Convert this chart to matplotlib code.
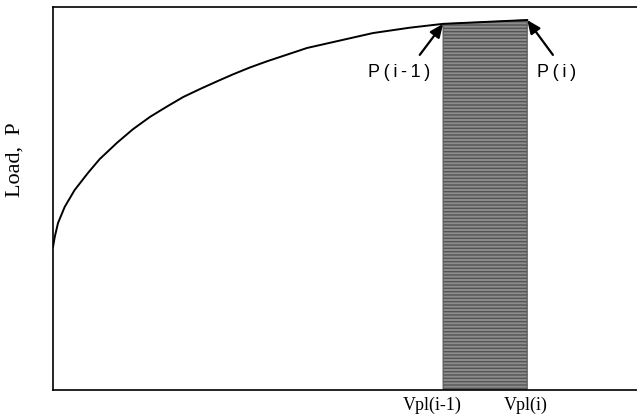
import matplotlib
matplotlib.use("Agg")
import matplotlib.pyplot as plt

# Load-displacement curve (x = plastic displacement, y = load)
disp = [0, 0.29, 0.86, 2.0, 3.7, 6.0, 8.0, 11.0, 13.7, 16.6, 19.5, 22.3, 25.2,
        28.1, 30.8, 33.7, 36.6, 43.5, 54.8, 61.1, 66.8, 74.0, 81.2]
load = [37.3, 39.9, 43.6, 47.8, 52.2, 56.7, 60.3, 64.6, 68.1, 71.3, 74.0, 76.5,
        78.6, 80.6, 82.4, 84.2, 85.8, 89.3, 93.2, 94.6, 95.6, 96.1, 96.6]

# increment between the two load steps
v_prev = 66.8
v_curr = 81.2
p_prev = 95.6
p_curr = 96.6

fig = plt.figure(figsize=(6.37, 4.2), dpi=100)
ax = fig.add_axes([53 / 637, 30 / 420, 584 / 637, 383 / 420])

# shaded strip under the curve
ax.fill([v_prev, v_prev, 74.0, v_curr, v_curr], [0, p_prev, 96.1, p_curr, 0],
        facecolor="#8c8c8c", edgecolor="#555555", hatch="-----", linewidth=0.8)

ax.plot(disp, load, color="black", linewidth=1.4, solid_joinstyle="round")

ax.set_xlim(0, 100)
ax.set_ylim(0, 100)
ax.set_xticks([])
ax.set_yticks([])
ax.spines["right"].set_visible(False)
for s in ["left", "bottom", "top"]:
    ax.spines[s].set_linewidth(1.2)

fig.text(15 / 637, 1 - 160 / 420, "Load,  P", family="Liberation Serif",
         fontsize=16, rotation=90, ha="center", va="center")

# labels under the strip
ax.text(64.9, -3.9, "Vpl(i-1)", family="Liberation Serif", fontsize=13,
        ha="center", va="center", clip_on=False)
ax.text(81.0, -3.9, "Vpl(i)", family="Liberation Serif", fontsize=13,
        ha="center", va="center", clip_on=False)

# point labels with arrows
sp = "\u2009"
ax.text(59.2, 83.0, sp.join("P(i-1)"), family="Liberation Sans", fontsize=13,
        ha="center", va="center")
ax.text(86.3, 83.0, sp.join("P(i)"), family="Liberation Sans", fontsize=13,
        ha="center", va="center")

arrow = dict(arrowstyle="-|>,head_length=0.8,head_width=0.35", color="black",
             lw=1.6, shrinkA=0, shrinkB=0)
ax.annotate("", xy=(v_prev, p_prev), xytext=(62.8, 87.5), arrowprops=arrow)
ax.annotate("", xy=(v_curr, p_curr), xytext=(85.6, 87.5), arrowprops=arrow)

fig.savefig("out.png", dpi=100)
